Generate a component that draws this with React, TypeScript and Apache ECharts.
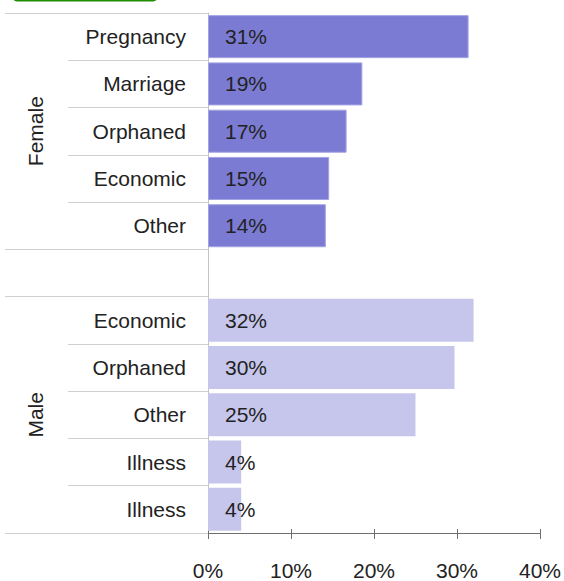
import React, { useEffect, useRef } from "react";
import * as echarts from "echarts";

const femaleCategories = ["Pregnancy", "Marriage", "Orphaned", "Economic", "Other"];
const femaleValues = [31.4, 18.6, 16.7, 14.6, 14.2];
const maleCategories = ["Economic", "Orphaned", "Other", "Illness", "Illness"];
const maleValues = [32.0, 29.7, 25.0, 4.0, 4.0];
const groupLabels = ["Female", "Male"];
const xTickValues = [0, 10, 20, 30, 40];

const FEMALE_COLOR = "#7b7bd4";
const MALE_COLOR = "#c6c6ec";
const FONT = "'Liberation Sans', Arial, Helvetica, sans-serif";

export default function App() {
  const ref = useRef<HTMLDivElement>(null);

  useEffect(() => {
    if (!ref.current) return;
    document.body.style.margin = "0";
    const chart = echarts.init(ref.current, undefined, { renderer: "svg" });

    const keys: string[] = [];
    const names: string[] = [];
    const data: any[] = [];
    femaleCategories.forEach((c, i) => {
      keys.push("F" + i);
      names.push(c);
      data.push({
        value: femaleValues[i],
        itemStyle: { color: FEMALE_COLOR, borderColor: "#a3a3e3", borderWidth: 1 },
      });
    });
    keys.push("GAP");
    names.push("");
    data.push({ value: null });
    maleCategories.forEach((c, i) => {
      keys.push("M" + i);
      names.push(c);
      data.push({ value: maleValues[i], itemStyle: { color: MALE_COLOR } });
    });

    const groupBoundaries = [0, femaleCategories.length, femaleCategories.length + 1];
    const femaleMid = Math.floor(femaleCategories.length / 2);
    const maleMid = femaleCategories.length + 1 + Math.floor(maleCategories.length / 2);

    const xMin = xTickValues[0];
    const xMax = xTickValues[xTickValues.length - 1];
    const xInterval = xTickValues[1] - xTickValues[0];

    chart.setOption({
      animation: false,
      textStyle: { fontFamily: FONT },
      grid: { left: 208, right: 22.5, top: 13, bottom: 46.5, containLabel: false },
      graphic: [
        {
          type: "rect",
          shape: { x: 13, y: -20, width: 144, height: 20.5, r: 4 },
          style: { fill: "transparent", stroke: "#1f8c00", lineWidth: 2 },
        },
      ],
      xAxis: [
        {
          type: "value",
          position: "bottom",
          min: xMin,
          max: xMax,
          interval: xInterval,
          axisLine: { show: true, lineStyle: { color: "#6e6e6e", width: 1 } },
          axisTick: { show: true, length: 6, lineStyle: { color: "#6e6e6e" } },
          splitLine: { show: false },
          axisLabel: {
            formatter: "{value}%",
            fontSize: 21,
            color: "#222",
            margin: 27,
            fontFamily: FONT,
          },
        },
        {
          type: "value",
          position: "bottom",
          offset: 0,
          min: xMin,
          max: xMax,
          interval: xInterval,
          axisLine: { show: false },
          axisTick: { show: true, inside: true, length: 4, lineStyle: { color: "#6e6e6e" } },
          splitLine: { show: false },
          axisLabel: { show: false },
        },
      ],
      yAxis: [
        {
          type: "category",
          inverse: true,
          data: keys,
          axisLine: { show: true, lineStyle: { color: "#c4c4c4", width: 1 } },
          axisTick: { show: true, length: 140, lineStyle: { color: "#cfcfcf" } },
          axisLabel: {
            interval: 0,
            formatter: (_v: string, idx: number) => names[idx],
            fontSize: 21,
            color: "#222",
            margin: 22,
            fontFamily: FONT,
          },
        },
        {
          type: "category",
          inverse: true,
          data: keys,
          position: "left",
          axisLine: { show: false },
          axisTick: {
            show: true,
            length: 203,
            interval: (idx: number) => groupBoundaries.indexOf(idx) >= 0,
            lineStyle: { color: "#cfcfcf" },
          },
          axisLabel: { show: false },
        },
        {
          type: "category",
          inverse: true,
          data: keys,
          position: "left",
          axisLine: { show: false },
          axisTick: { show: false },
          axisLabel: {
            interval: 0,
            rotate: 90,
            margin: 162,
            fontSize: 21,
            color: "#222",
            fontFamily: FONT,
            formatter: (_v: string, idx: number) =>
              idx === femaleMid ? groupLabels[0] : idx === maleMid ? groupLabels[1] : "",
          },
        },
      ],
      series: [
        {
          type: "bar",
          xAxisIndex: 0,
          yAxisIndex: 0,
          data,
          barCategoryGap: "9%",
          label: {
            show: true,
            position: "insideLeft",
            distance: 17,
            fontSize: 21,
            color: "#222",
            fontFamily: FONT,
            formatter: (p: any) =>
              p.value == null ? "" : Math.round(p.value) + "%",
          },
        },
      ],
    });

    return () => chart.dispose();
  }, []);

  return (
    <div
      ref={ref}
      style={{ position: "absolute", left: 0, top: 0, width: 564, height: 581 }}
    />
  );
}
